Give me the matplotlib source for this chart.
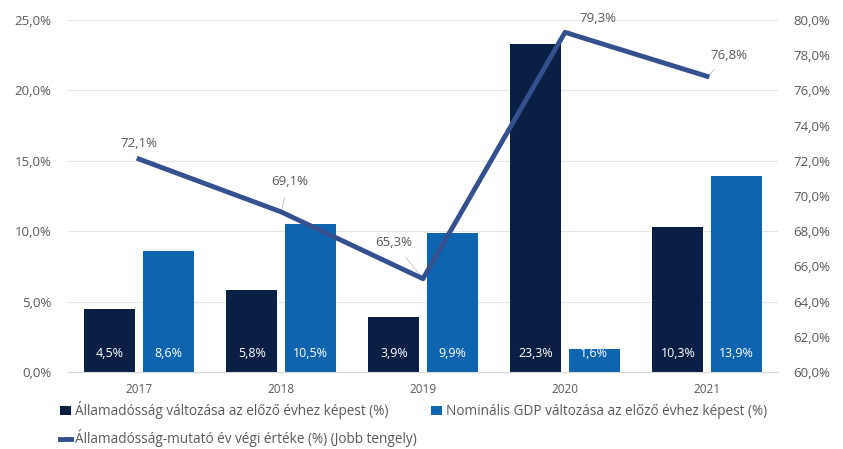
import numpy as np
import matplotlib.pyplot as plt
from matplotlib.ticker import FuncFormatter

# adatok
evek = ['2017', '2018', '2019', '2020', '2021']
allamadossag_valt = [4.5, 5.8, 3.9, 23.3, 10.3]
gdp_valt = [8.6, 10.5, 9.9, 1.6, 13.9]
adossag_mutato = [72.1, 69.1, 65.3, 79.3, 76.8]

sotet = '#0a1f44'
kek = '#0f64b0'
vonal = '#34508e'
szurke = '#595959'

plt.rcParams['font.family'] = ['Open Sans', 'DejaVu Sans']

fig = plt.figure(figsize=(8.43, 4.49), dpi=100)
ax = fig.add_axes([68 / 843, 1 - 372 / 449, 710 / 843, 352 / 449])

x = np.arange(len(evek))
w = 0.36
b1 = ax.bar(x - 0.205, allamadossag_valt, w, color=sotet, zorder=2,
            label='Államadósság változása az előző évhez képest (%)')
b2 = ax.bar(x + 0.205, gdp_valt, w, color=kek, zorder=2,
            label='Nominális GDP változása az előző évhez képest (%)')

for bars, vals in [(b1, allamadossag_valt), (b2, gdp_valt)]:
    for rect, v in zip(bars, vals):
        ax.text(rect.get_x() + rect.get_width() / 2, 1.3, f'{v:.1f}%'.replace('.', ','),
                ha='center', va='center', color='white', fontsize=9, zorder=3)

ax.set_xlim(-0.5, 4.5)
ax.set_ylim(0, 25)
ax.set_yticks(np.arange(0, 26, 5))
ax.yaxis.set_major_formatter(FuncFormatter(lambda v, p: f'{v:.1f}%'.replace('.', ',')))
ax.set_xticks(x)
ax.set_xticklabels(evek)
ax.grid(axis='y', color='#e6e6e6', linewidth=0.8, zorder=0)
for s in ['top', 'right', 'left']:
    ax.spines[s].set_visible(False)
ax.spines['bottom'].set_color('#d9d9d9')
ax.tick_params(axis='both', length=0, colors=szurke, labelsize=9.5)
ax.tick_params(axis='x', pad=8, labelsize=8.5)
ax.tick_params(axis='y', pad=12)

ax2 = ax.twinx()
ln, = ax2.plot(x, adossag_mutato, color=vonal, linewidth=3.5, zorder=4,
               label='Államadósság-mutató év végi értéke (%) (Jobb tengely)')
ax2.set_ylim(60, 80)
ax2.set_yticks(np.arange(60, 81, 2))
ax2.yaxis.set_major_formatter(FuncFormatter(lambda v, p: f'{v:.1f}%'.replace('.', ',')))
ax2.tick_params(axis='y', length=0, colors=szurke, labelsize=9.5, pad=11)
for s in ax2.spines.values():
    s.set_visible(False)

# címkék a vonalon
eltolas = [(0, 11), (6, 22), (-21, 26), (24, 10), (16, 15)]
for i, (xi, yi) in enumerate(zip(x, adossag_mutato)):
    dx, dy = eltolas[i]
    ax2.annotate(f'{yi:.1f}%'.replace('.', ','), (xi, yi), xytext=(dx, dy),
                 textcoords='offset points', ha='center', va='center',
                 color=szurke, fontsize=9.5,
                 arrowprops=dict(arrowstyle='-', color='#bfbfbf', lw=0.6,
                                 shrinkA=5, shrinkB=2) if i > 0 else None)

fig.legend([b1, ln, b2], [b1.get_label(), ln.get_label(), b2.get_label()],
           loc='upper left', bbox_to_anchor=(52 / 843, 1 - 393 / 449), ncol=2,
           frameon=False, fontsize=9.8, labelcolor=szurke, handlelength=0.8,
           handletextpad=0.3, columnspacing=1.0, labelspacing=0.75,
           borderaxespad=0.2)

fig.savefig('out.png', dpi=100)
